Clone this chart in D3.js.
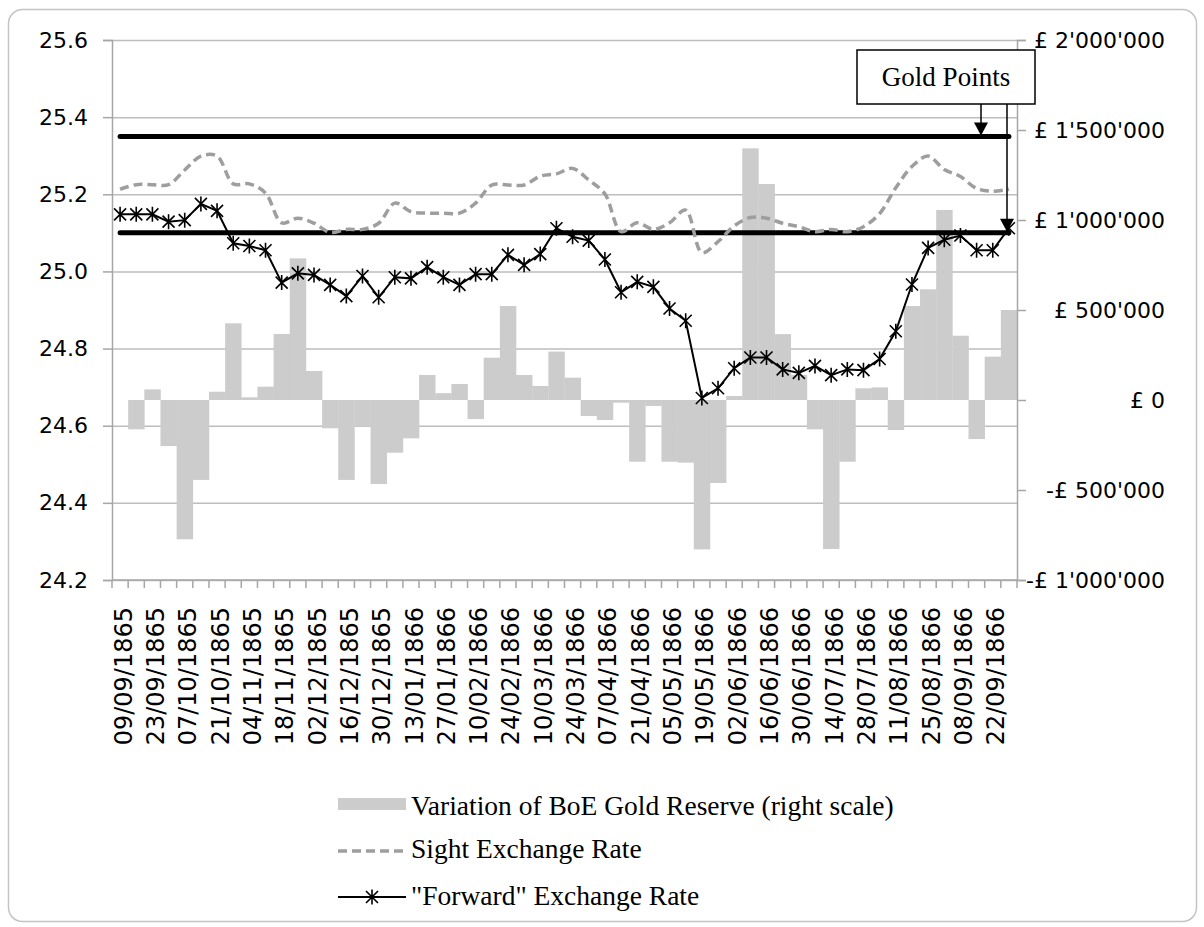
<!DOCTYPE html>
<html>
<head>
<meta charset="utf-8">
<script src="https://cdn.jsdelivr.net/npm/d3@7"></script>
<style>
  body { margin: 0; background: #fff; }
  svg { display: block; }
</style>
</head>
<body>
<div id="chart"></div>
<script>
// weekly observations, 09/09/1865 - 29/09/1866
const dates = [
  "09/09/1865", "16/09/1865", "23/09/1865", "30/09/1865", "07/10/1865", "14/10/1865",
  "21/10/1865", "28/10/1865", "04/11/1865", "11/11/1865", "18/11/1865", "25/11/1865",
  "02/12/1865", "09/12/1865", "16/12/1865", "23/12/1865", "30/12/1865", "06/01/1866",
  "13/01/1866", "20/01/1866", "27/01/1866", "03/02/1866", "10/02/1866", "17/02/1866",
  "24/02/1866", "03/03/1866", "10/03/1866", "17/03/1866", "24/03/1866", "31/03/1866",
  "07/04/1866", "14/04/1866", "21/04/1866", "28/04/1866", "05/05/1866", "12/05/1866",
  "19/05/1866", "26/05/1866", "02/06/1866", "09/06/1866", "16/06/1866", "23/06/1866",
  "30/06/1866", "07/07/1866", "14/07/1866", "21/07/1866", "28/07/1866", "04/08/1866",
  "11/08/1866", "18/08/1866", "25/08/1866", "01/09/1866", "08/09/1866", "15/09/1866",
  "22/09/1866", "29/09/1866"
];

// variation of BoE gold reserve, £ (right scale)
const goldVariation = [
  null, -163000, 59000, -256000, -774000, -444000, 46000, 426000, 15000, 74000,
  367000, 787000, 161000, -157000, -444000, -148000, -467000, -293000, -213000, 139000,
  38000, 89000, -106000, 235000, 522000, 139000, 78000, 269000, 124000, -89000,
  -111000, -15000, -343000, -33000, -343000, -348000, -830000, -461000, 22000, 1398000,
  1200000, 366000, 140000, -163000, -828000, -343000, 65000, 70000, -167000, 522000,
  615000, 1056000, 357000, -217000, 241000, 500000
];

const sightRate = [
  25.213, 25.225, 25.225, 25.225, 25.263, 25.299, 25.299, 25.227, 25.227, 25.203,
  25.126, 25.138, 25.125, 25.101, 25.109, 25.109, 25.125, 25.177, 25.155, 25.151,
  25.151, 25.151, 25.177, 25.224, 25.224, 25.224, 25.247, 25.253, 25.267, 25.237,
  25.201, 25.103, 25.126, 25.109, 25.126, 25.159, 25.049, 25.077, 25.118, 25.140,
  25.138, 25.125, 25.116, 25.103, 25.109, 25.103, 25.116, 25.150, 25.217, 25.272,
  25.299, 25.264, 25.246, 25.215, 25.208, 25.213
];

const forwardRate = [
  25.148, 25.148, 25.148, 25.129, 25.133, 25.175, 25.157, 25.073, 25.066, 25.055,
  24.971, 24.995, 24.991, 24.965, 24.936, 24.988, 24.933, 24.985, 24.982, 25.011,
  24.985, 24.965, 24.993, 24.993, 25.043, 25.017, 25.045, 25.112, 25.090, 25.080,
  25.031, 24.946, 24.973, 24.960, 24.904, 24.872, 24.672, 24.697, 24.749, 24.777,
  24.777, 24.746, 24.737, 24.755, 24.731, 24.746, 24.744, 24.773, 24.845, 24.966,
  25.061, 25.082, 25.093, 25.055, 25.055, 25.112
];

// gold points (upper / lower)
const goldPoints = [25.35, 25.10];

const leftTicks = [24.2, 24.4, 24.6, 24.8, 25.0, 25.2, 25.4, 25.6];
const rightTicks = [-1000000, -500000, 0, 500000, 1000000, 1500000, 2000000];

const legendLabels = ["Variation of BoE Gold Reserve (right scale)", "Sight Exchange Rate", "\"Forward\" Exchange Rate"];

const W = 1204, H = 927;
const L = 112, R = 1017, T = 40, B = 580;
const axisGrey = "#a6a6a6";
const sansFont = "'DejaVu Sans', Verdana, sans-serif";
const serifFont = "'Liberation Serif', 'Times New Roman', serif";

const svg = d3.select("#chart").append("svg")
  .attr("width", W)
  .attr("height", H);

// outer frame
svg.append("rect")
  .attr("x", 8.5).attr("y", 9.5)
  .attr("width", 1188).attr("height", 912)
  .attr("rx", 14)
  .attr("fill", "white")
  .attr("stroke", "#c4c4c4")
  .attr("stroke-width", 1.5);

const x = d3.scaleBand().domain(dates).range([L, R]).padding(0);
const bw = x.bandwidth();
const yL = d3.scaleLinear().domain([24.2, 25.6]).range([B, T]);
const yR = d3.scaleLinear().domain([-1000000, 2000000]).range([B, T]);
const cx = i => x(dates[i]) + bw / 2;

// gridlines
svg.append("g")
  .attr("transform", `translate(${L},0)`)
  .call(d3.axisLeft(yL).tickValues(leftTicks).tickSize(-(R - L)).tickFormat(""))
  .call(g => g.select(".domain").remove())
  .call(g => g.selectAll("line").attr("stroke", "#bdbdbd").attr("stroke-width", 1.5));

// bars
svg.append("g")
  .selectAll("rect")
  .data(goldVariation.map((v, i) => ({ v: v, i: i })).filter(d => d.v !== null))
  .join("rect")
  .attr("x", d => x(dates[d.i]))
  .attr("width", bw + 0.3)
  .attr("y", d => Math.min(yR(d.v), yR(0)))
  .attr("height", d => Math.abs(yR(d.v) - yR(0)))
  .attr("fill", "#cccccc");

// left axis
svg.append("g")
  .attr("transform", `translate(${L},0)`)
  .call(d3.axisLeft(yL).tickValues(leftTicks).tickSize(9).tickPadding(15).tickFormat(d3.format(".1f")))
  .call(g => g.selectAll("line, path").attr("stroke", axisGrey).attr("stroke-width", 1.5))
  .call(g => g.selectAll("text").attr("font-family", sansFont).attr("font-size", 22).attr("fill", "#000"));

// right axis
const fmtPound = v => (v < 0 ? "-" : "") + "£ " + d3.format(",")(Math.abs(v)).replace(/,/g, "'");
svg.append("g")
  .attr("transform", `translate(${R},0)`)
  .call(d3.axisRight(yR).tickValues(rightTicks).tickSize(9).tickFormat(fmtPound))
  .call(g => g.selectAll("line, path").attr("stroke", axisGrey).attr("stroke-width", 1.5))
  .call(g => g.selectAll("text")
    .attr("x", 1165 - R)
    .attr("text-anchor", "end")
    .attr("font-family", sansFont).attr("font-size", 22).attr("fill", "#000"));

// x axis: line, week ticks at boundaries, labels every 2 weeks
svg.append("line")
  .attr("x1", L).attr("x2", R).attr("y1", B).attr("y2", B)
  .attr("stroke", axisGrey).attr("stroke-width", 1.5);
svg.append("g")
  .selectAll("line")
  .data(dates.concat(["end"]))
  .join("line")
  .attr("x1", (d, i) => L + i * bw)
  .attr("x2", (d, i) => L + i * bw)
  .attr("y1", B).attr("y2", B + 8)
  .attr("stroke", axisGrey).attr("stroke-width", 1.5);

svg.append("g")
  .attr("transform", `translate(0,${B})`)
  .call(d3.axisBottom(x).tickValues(dates.filter((d, i) => i % 2 === 0)).tickSize(0))
  .call(g => g.select(".domain").remove())
  .call(g => g.selectAll("text")
    .attr("transform", "rotate(-90)")
    .attr("x", -27).attr("y", 0).attr("dy", "0.48em")
    .attr("text-anchor", "end")
    .attr("font-family", sansFont).attr("font-size", 24).attr("fill", "#000"));

// gold points lines
goldPoints.forEach(gp => {
  svg.append("path")
    .attr("d", d3.line()([[cx(0), yL(gp)], [cx(dates.length - 1), yL(gp)]]))
    .attr("stroke", "#000")
    .attr("stroke-width", 5)
    .attr("stroke-linecap", "round")
    .attr("fill", "none");
});

// sight rate (smoothed, dashed)
svg.append("path")
  .datum(sightRate)
  .attr("d", d3.line().x((d, i) => cx(i)).y(d => yL(d)).curve(d3.curveCatmullRom.alpha(0.5)))
  .attr("fill", "none")
  .attr("stroke", "#9e9e9e")
  .attr("stroke-width", 3.5)
  .attr("stroke-dasharray", "9,5");

// forward rate
svg.append("path")
  .datum(forwardRate)
  .attr("d", d3.line().x((d, i) => cx(i)).y(d => yL(d)))
  .attr("fill", "none")
  .attr("stroke", "#000")
  .attr("stroke-width", 2);

const star = "M-6,-6L6,6M-6,6L6,-6M0,-7.5L0,7.5";
svg.append("g")
  .selectAll("path")
  .data(forwardRate)
  .join("path")
  .attr("transform", (d, i) => `translate(${cx(i)},${yL(d)})`)
  .attr("d", star)
  .attr("stroke", "#000")
  .attr("stroke-width", 1.6)
  .attr("fill", "none");

// "Gold Points" callout
svg.append("rect")
  .attr("x", 857).attr("y", 50)
  .attr("width", 178).attr("height", 54)
  .attr("fill", "white")
  .attr("stroke", "#000")
  .attr("stroke-width", 1.5);
svg.append("text")
  .attr("x", 946).attr("y", 86)
  .attr("text-anchor", "middle")
  .attr("font-family", serifFont)
  .attr("font-size", 27)
  .text("Gold Points");

function arrow(xp, y1, y2) {
  svg.append("line")
    .attr("x1", xp).attr("x2", xp).attr("y1", y1).attr("y2", y2 - 10)
    .attr("stroke", "#000").attr("stroke-width", 1.5);
  svg.append("path")
    .attr("d", `M${xp - 7},${y2 - 13}L${xp + 7},${y2 - 13}L${xp},${y2}Z`)
    .attr("fill", "#000");
}
arrow(981, 104, yL(goldPoints[0]) - 1);
arrow(1007, 104, yL(goldPoints[1]) - 1);

// legend
const lg = svg.append("g");
lg.append("rect")
  .attr("x", 338).attr("y", 798).attr("width", 68).attr("height", 12)
  .attr("fill", "#cccccc");
lg.append("line")
  .attr("x1", 338).attr("x2", 406).attr("y1", 851).attr("y2", 851)
  .attr("stroke", "#9e9e9e").attr("stroke-width", 3.5).attr("stroke-dasharray", "9,5");
lg.append("line")
  .attr("x1", 338).attr("x2", 406).attr("y1", 897).attr("y2", 897)
  .attr("stroke", "#000").attr("stroke-width", 2);
lg.append("path")
  .attr("transform", "translate(372,897)")
  .attr("d", star)
  .attr("stroke", "#000").attr("stroke-width", 1.6);

lg.selectAll("text")
  .data(legendLabels)
  .join("text")
  .attr("x", 411)
  .attr("y", (d, i) => [815, 858, 905][i])
  .attr("font-family", serifFont)
  .attr("font-size", 27.5)
  .text(d => d);
</script>
</body>
</html>
